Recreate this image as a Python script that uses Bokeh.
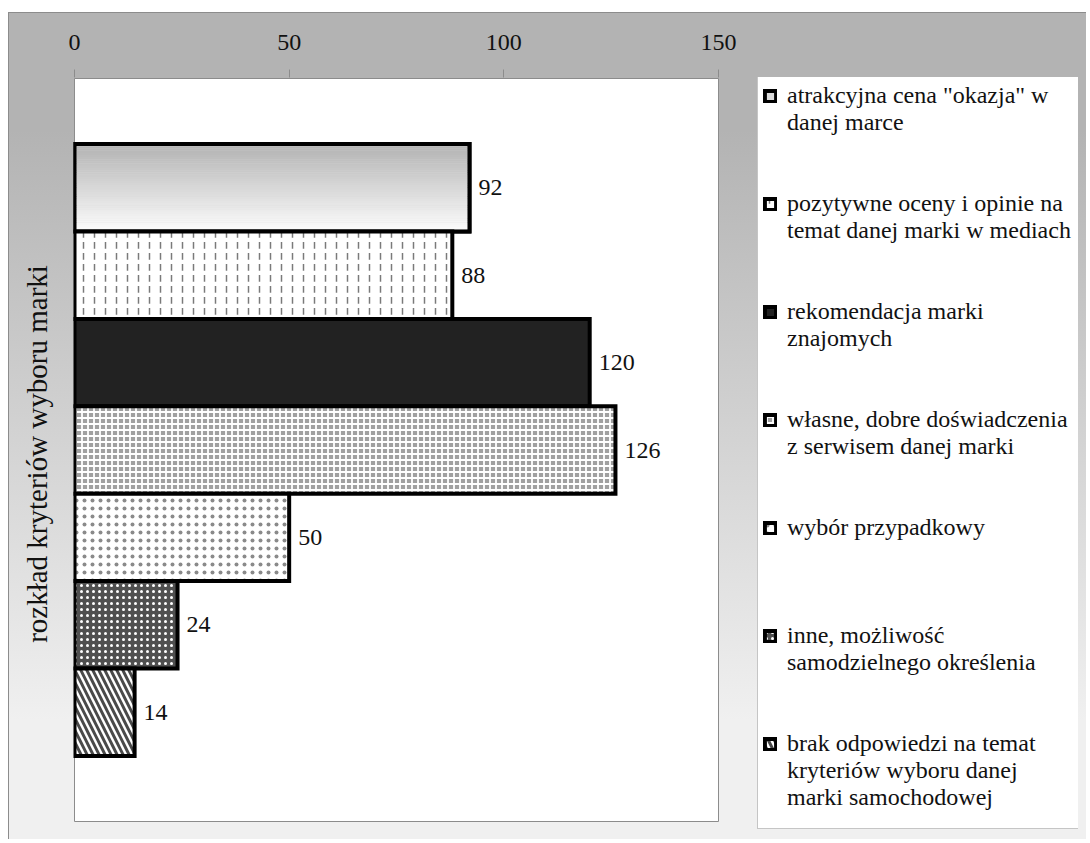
from bokeh.plotting import figure
from bokeh.models import Range1d, FixedTicker, Legend, LegendItem, ColumnDataSource
from bokeh.core.properties import value
from bokeh.embed import file_html
from bokeh.resources import INLINE

# ---------------- data ----------------
categories = [
    'atrakcyjna cena "okazja" w\ndanej marce',
    'pozytywne oceny i opinie na\ntemat danej marki w mediach',
    'rekomendacja marki\nznajomych',
    'własne, dobre doświadczenia\nz serwisem danej marki',
    'wybór przypadkowy',
    'inne, możliwość\nsamodzielnego określenia',
    'brak odpowiedzi na temat\nkryteriów wyboru danej\nmarki samochodowej',
]
values = [92, 88, 120, 126, 50, 24, 14]
x_ticks = [0, 50, 100, 150]
axis_title = "rozkład kryteriów wyboru marki"

FONT = "Liberation Serif"
TXT = "#111111"
FS = "24px"
positions = list(range(len(values)))  # 0 = top bar

# ---------------- layout (pixels) ----------------
FIG_W, FIG_H = 1086, 839
PLOT_L, PLOT_R, PLOT_T, PLOT_B = 74, 718, 78, 821             # white plot box
FRAME_L, FRAME_R, FRAME_T, FRAME_B = 73, 1078, 77, 830        # drawing area (plot + legend)
LEG_L, LEG_B = 757, 829                                       # legend box left / bottom
PAD = 0.75                                                     # category padding (bar units)

n_cat = len(values)
y_top = -0.5 - PAD
y_bot = n_cat - 0.5 + PAD
y_px = (PLOT_B - PLOT_T) / (y_bot - y_top)
x_max = x_ticks[-1]
x_px = (PLOT_R - PLOT_L) / x_max

p = figure(width=FIG_W, height=FIG_H,
           x_range=Range1d(-(PLOT_L - FRAME_L) / x_px, x_max + (FRAME_R - PLOT_R) / x_px),
           y_range=Range1d(y_bot + (FRAME_B - PLOT_B) / y_px, y_top - (PLOT_T - FRAME_T) / y_px),
           x_axis_location="above",
           output_backend="svg", toolbar_location=None,
           min_border_left=FRAME_L, min_border_top=FRAME_T,
           min_border_bottom=FIG_H - FRAME_B, min_border_right=FIG_W - FRAME_R)
p.border_fill_color = None
p.background_fill_color = None
p.outline_line_color = None
p.styles = {
    "background": (
        "linear-gradient(#8c8c8c,#8c8c8c) 8px 12px / 1px 100% no-repeat,"
        "linear-gradient(#8c8c8c,#8c8c8c) 8px 12px / 100% 1px no-repeat,"
        "linear-gradient(to bottom, #b3b3b3 0px, #b3b3b3 118px, #f0f0f0 708px, #f0f0f0 100%)"
        " 8px 12px / 100% 100% no-repeat,"
        "#ffffff"
    )
}
p.grid.visible = False

# white plot box
p.quad(left=[0], right=[x_max], top=[y_top], bottom=[y_bot],
       fill_color="white", line_color="#8c8c8c", line_width=1)

# x axis (above)
p.xaxis.ticker = FixedTicker(ticks=x_ticks)
p.xaxis.axis_line_color = None
p.xaxis.major_tick_in = 0
p.xaxis.major_tick_out = 8
p.xaxis.major_tick_line_color = "#8c8c8c"
p.xaxis.minor_tick_line_color = None
p.xaxis.major_label_standoff = 20
p.xaxis.major_label_text_font = FONT
p.xaxis.major_label_text_font_size = FS
p.xaxis.major_label_text_color = TXT

# y axis: title only
p.yaxis.ticker = FixedTicker(ticks=[])
p.yaxis.axis_line_color = None
p.yaxis.major_tick_line_color = None
p.yaxis.minor_tick_line_color = None
p.yaxis.major_label_text_font_size = "0px"
p.yaxis.axis_label = axis_title
p.yaxis.axis_label_text_font = FONT
p.yaxis.axis_label_text_font_size = "29px"
p.yaxis.axis_label_text_font_style = "normal"
p.yaxis.axis_label_text_color = TXT
p.yaxis.axis_label_standoff = 21

LW = 4
styles = [
    dict(fill_color="#d9d9d9"),
    dict(fill_color="white", hatch_pattern=":", hatch_color="#7a7a7a", hatch_scale=11, hatch_weight=1.5),
    dict(fill_color="#222222"),
    dict(fill_color="#a0a0a0", hatch_pattern="+", hatch_color="#ffffff", hatch_scale=6, hatch_weight=1.8),
    dict(fill_color="white", hatch_pattern=".", hatch_color="#8a8a8a", hatch_scale=8, hatch_weight=1),
    dict(fill_color="#505050", hatch_pattern=".", hatch_color="#ffffff", hatch_scale=6, hatch_weight=1),
    dict(fill_color="white", hatch_pattern="\\", hatch_color="#4a4a4a", hatch_scale=12, hatch_weight=3),
]

renderers = []
for i, (v, pos, st) in enumerate(zip(values, positions, styles)):
    src = ColumnDataSource(dict(y=[pos], right=[v]))
    r = p.hbar(y="y", right="right", left=0, height=1.0, source=src,
               line_color="black", line_width=LW, line_join="miter", **st)
    renderers.append(r)
    if i == 0:
        # vertical gray-to-white gradient drawn as thin strips over the first bar
        n = 40
        ys, rs, cs = [], [], []
        for k in range(n):
            t = (k + 0.5) / n
            g = int(round(0xb2 + (0xfd - 0xb2) * t))
            ys.append(pos - 0.5 + t)
            rs.append(v)
            cs.append("#%02x%02x%02x" % (g, g, g))
        p.hbar(y=ys, right=rs, left=0, height=1.0 / n + 0.002, fill_color=cs, line_color=None)
        p.hbar(y=[pos], right=[v], left=0, height=1.0, fill_color=None,
               line_color="black", line_width=LW, line_join="miter")

# value labels
p.text(x=values, y=positions, text=[str(v) for v in values], x_offset=9,
       text_baseline="middle", text_align="left",
       text_font=value(FONT), text_font_size=FS, text_color=TXT)

# invisible renderer used for legend continuation rows (no glyph shown)
blank = p.hbar(y=[], right=[], left=0, height=1.0, fill_alpha=0, line_alpha=0)

ROWS_PER_ENTRY = 4
items = []
for c, r in zip(categories, renderers):
    lines = c.split("\n")
    items.append(LegendItem(label=lines[0], renderers=[r]))
    for ln in lines[1:]:
        items.append(LegendItem(label=ln, renderers=[blank]))
    for _ in range(ROWS_PER_ENTRY - len(lines)):
        items.append(LegendItem(label=" ", renderers=[blank]))
while items and items[-1].label.value == " ":
    items.pop()

legend = Legend(items=items, location=(LEG_L - FRAME_L, FRAME_B - LEG_B))
legend.margin = 0
legend.border_line_color = "#8c8c8c"
legend.border_line_width = 1
legend.background_fill_color = "white"
legend.background_fill_alpha = 1
legend.label_text_font = FONT
legend.label_text_font_size = FS
legend.label_text_color = TXT
legend.glyph_width = 14
legend.glyph_height = 14
legend.label_standoff = 10
legend.padding = 5
legend.spacing = 0
legend.label_height = 27
legend.label_width = 286
try:
    # an empty title below the items adds the bottom spacing of the reference legend box
    legend.title_location = "below"
    legend.title = " "
    legend.title_text_font_size = "8px"
    legend.title_standoff = 3
except Exception:
    legend.title = None
p.add_layout(legend)

open("out.html", "w").write(file_html(p, INLINE))
